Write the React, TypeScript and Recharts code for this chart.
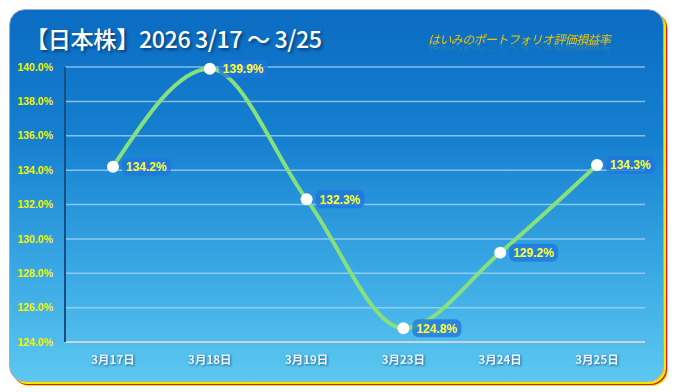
import { CartesianGrid, LabelList, Line, LineChart, XAxis, YAxis } from 'recharts'

// 日付ごとの評価損益率（%）
const dates = ['3月17日', '3月18日', '3月19日', '3月23日', '3月24日', '3月25日']
const rates = [134.2, 139.9, 132.3, 124.8, 129.2, 134.3]
const yTicks = [124, 126, 128, 130, 132, 134, 136, 138, 140]
const boundaryTicks = [0, 1, 2, 3, 4, 5, 6]

const data = dates.map((d, i) => ({ date: d, rate: rates[i] }))

const W = 674
const H = 392

function RateLabel(props: any) {
  const { x, y, value } = props
  if (x == null || y == null) return null
  const text = `${Number(value).toFixed(1)}%`
  const tx = x + 13
  return (
    <g>
      <rect x={tx - 4} y={y - 9} width={49} height={18} rx={6} fill="#1f74dc" opacity={0.75} />
      <text
        x={tx}
        y={y + 4.5}
        fill="#ffff2e"
        fontSize={12}
        fontWeight="bold"
        fontFamily="'Liberation Sans', Arial, sans-serif"
      >
        {text}
      </text>
    </g>
  )
}

function XTick(props: any) {
  const { x, y, payload } = props
  return (
    <text
      x={x}
      y={y + 14}
      textAnchor="middle"
      fill="#eef4fa"
      fontSize={11.5}
      fontWeight="bold"
      fontFamily="'Noto Sans CJK JP', sans-serif"
      style={{ filter: 'drop-shadow(1px 1px 1px rgba(0,40,90,0.6))' }}
    >
      {payload.value}
    </text>
  )
}

export default function App() {
  return (
    <div style={{ position: 'absolute', left: 0, top: 0, width: W, height: H, background: '#fff', overflow: 'hidden' }}>
      {/* カード本体：青のグラデーション、右下に黄と赤の縁取り */}
      <div
        style={{
          position: 'absolute',
          left: 9,
          top: 9,
          width: 655,
          height: 373,
          borderRadius: 16,
          border: '1px solid #a9a9c4',
          boxSizing: 'border-box',
          background: 'linear-gradient(to bottom, #0a6cc2 0%, #1680d0 35%, #3aa8e4 70%, #5cc8f1 100%)',
          boxShadow: '2px 2px 0 #e8ea00, 3px 3px 0 #d2141c, 4px 4px 0 #e8ea00',
        }}
      />
      <div
        style={{
          position: 'absolute',
          left: 25,
          top: 23,
          color: '#ffffff',
          fontSize: 23.2,
          lineHeight: '30px',
          fontFamily: "'Noto Sans CJK JP', sans-serif",
          fontWeight: 500,
          whiteSpace: 'nowrap',
          textShadow: '2px 2px 3px rgba(0,30,70,0.6)',
          letterSpacing: -0.4,
        }}
      >
        【日本株】2026 3/17 ～ 3/25
      </div>
      <div
        style={{
          position: 'absolute',
          left: 428,
          top: 31,
          color: '#f2c200',
          fontSize: 12,
          lineHeight: '16px',
          fontStyle: 'italic',
          fontFamily: "'Noto Sans CJK JP', sans-serif",
          whiteSpace: 'nowrap',
          letterSpacing: -0.6,
          WebkitBoxReflect: 'below -4px linear-gradient(transparent 40%, rgba(255,255,255,0.35))',
        } as any}
      >
        はいみのポートフォリオ評価損益率
      </div>
      <div style={{ position: 'absolute', left: 0, top: 0 }}>
        <LineChart width={W} height={H} data={data} margin={{ top: 67, right: 29, bottom: 20, left: 8 }}>
          <CartesianGrid vertical={false} stroke="#a8d8f6" strokeOpacity={0.75} strokeWidth={1.5} />
          <XAxis
            xAxisId="b"
            type="number"
            domain={[0, 6]}
            ticks={boundaryTicks}
            height={0}
            mirror
            axisLine={false}
            tickLine={{ stroke: '#d4dee6', strokeWidth: 1.5 }}
            tickSize={4}
            tick={<g />}
          />
          <XAxis
            dataKey="date"
            height={30}
            padding={{ left: 48, right: 48 }}
            axisLine={{ stroke: '#c9d6e0', strokeWidth: 2 }}
            tickLine={false}
            tick={<XTick />}
            interval={0}
          />
          <YAxis
            domain={[124, 140]}
            ticks={yTicks}
            width={57}
            axisLine={{ stroke: '#174f82', strokeWidth: 2 }}
            tickLine={false}
            tickFormatter={(v: number) => `${v.toFixed(1)}%`}
            tick={{ fill: '#f4f400', fontSize: 10.5, fontWeight: 'bold', fontFamily: "'Liberation Sans', Arial, sans-serif" }}
            tickMargin={6}
          />
          <YAxis
            yAxisId="r"
            orientation="right"
            domain={[124, 140]}
            width={0}
            tick={false}
            tickLine={false}
            axisLine={{ stroke: '#174f82', strokeWidth: 2 }}
          />
          <Line
            type="monotone"
            dataKey="rate"
            stroke="#86e07c"
            strokeWidth={4}
            dot={{ r: 6, fill: '#ffffff', stroke: 'none' }}
            activeDot={false}
            isAnimationActive={false}
          >
            <LabelList dataKey="rate" content={<RateLabel />} />
          </Line>
        </LineChart>
      </div>
    </div>
  )
}
